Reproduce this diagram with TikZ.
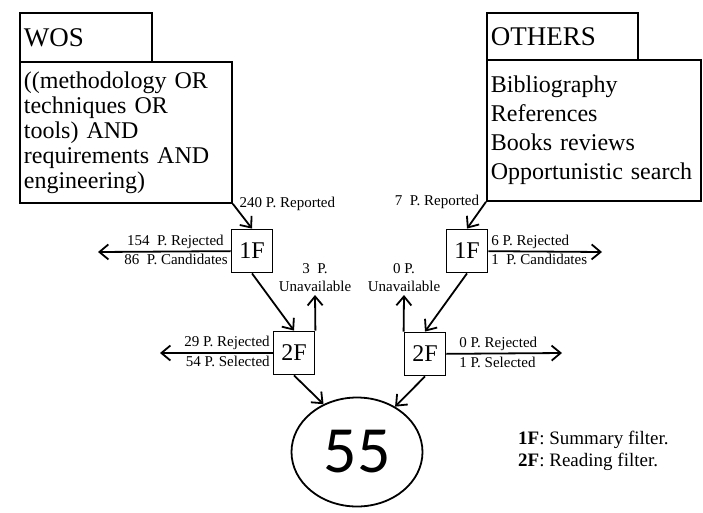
\documentclass[tikz,border=0pt]{standalone}
\usepackage{fontspec}
\setmainfont{Liberation Serif}
\newfontfamily\numfont{Carlito}
\usetikzlibrary{arrows.meta,shapes.geometric}

\begin{document}
\begin{tikzpicture} [x=1pt, y=-1pt, line width=1.8pt,
    box/.style={draw, rectangle, inner xsep=4pt, align=left, anchor=north west},
    head/.style={box, font=\fontsize{27}{27}\selectfont},
    filt/.style={draw, rectangle, minimum width=41pt, minimum height=43pt, inner sep=0pt, font=\fontsize{24}{24}\selectfont},
    lbl/.style={font=\fontsize{15}{18}\selectfont, inner sep=2pt}
  ]
  \useasboundingbox (0,0) rectangle (703,512);

  % sources
  \node[head, minimum width=132pt, minimum height=49pt, text width=124pt] (wos) at (19,12) {WOS};
  \node[box, minimum width=212pt, minimum height=141pt, text width=204pt,
    font=\fontsize{24}{25}\selectfont] (wosq) at (19,61)
    {((methodology OR\\ techniques OR\\ tools) AND\\ requirements AND\\ engineering)};
  \node[head, minimum width=151pt, minimum height=47pt, text width=143pt] (oth) at (486,12) {OTHERS};
  \node[box, minimum width=214pt, minimum height=141pt, text width=206pt,
    font=\fontsize{24}{29}\selectfont] (othq) at (486,59)
    {Bibliography\\ References\\ Books reviews\\ Opportunistic search};

  % filters
  \node[filt] (f1L) at (252,251) {1F};
  \node[filt] (f1R) at (467,251) {1F};
  \node[filt] (f2L) at (294,353) {2F};
  \node[filt] (f2R) at (425,354) {2F};
  \node[draw, ellipse, minimum width=131pt, minimum height=109pt, inner sep=0pt,
    font=\numfont\fontsize{66}{66}\selectfont] (total) at (357,452) {55};

  \coordinate (rejL1) at (98,252);
  \coordinate (rejR1) at (602,252);
  \coordinate (rejL2) at (160,353);
  \coordinate (rejR2) at (562,353);
  \coordinate (unL) at (315,295);
  \coordinate (unR) at (404,295);

  \path[>={Straight Barb[length=9pt,width=15pt]}, ->]
  (wosq.south east) edge node[lbl, pos=0, anchor=west, xshift=4pt]{240 P. Reported} (f1L.north)
  (othq.south west) edge node[lbl, pos=0, anchor=east, xshift=-4pt]{7\ \ P. Reported} (f1R.north)
  (f1L) edge node[lbl, pos=0, anchor=south east, xshift=-4pt]{154\ \ P. Rejected}
             node[lbl, pos=0, anchor=north east]{86\ \ P. Candidates} (rejL1)
  (f1R) edge node[lbl, pos=0, anchor=south west]{6 P. Rejected}
             node[lbl, pos=0, anchor=north west]{1\ \ P. Candidates} (rejR1)
  (f1L.south) edge (f2L.north)
  (f1R.south) edge (f2R.north)
  (f2L.north east) edge node[lbl, pos=1, anchor=south, align=center]{3\ \ P.\\Unavailable} (unL)
  (f2R.north west) edge node[lbl, pos=1, anchor=south, align=center]{0 P.\\Unavailable} (unR)
  (f2L) edge node[lbl, pos=0, anchor=south east]{29 P. Rejected}
             node[lbl, pos=0, anchor=north east]{54 P. Selected} (rejL2)
  (f2R) edge node[lbl, pos=0, anchor=south west, xshift=10pt]{0 P. Rejected}
             node[lbl, pos=0, anchor=north west, xshift=10pt]{1 P. Selected} (rejR2)
  (f2L.south) edge (total.125)
  (f2R.south) edge (total.50)
  ;

  % legend
  \node[anchor=west, align=left, font=\fontsize{19}{22}\selectfont] (legend) at (514,451)
    {\textbf{1F}: Summary filter.\\ \textbf{2F}: Reading filter.};
\end{tikzpicture}
\end{document}
